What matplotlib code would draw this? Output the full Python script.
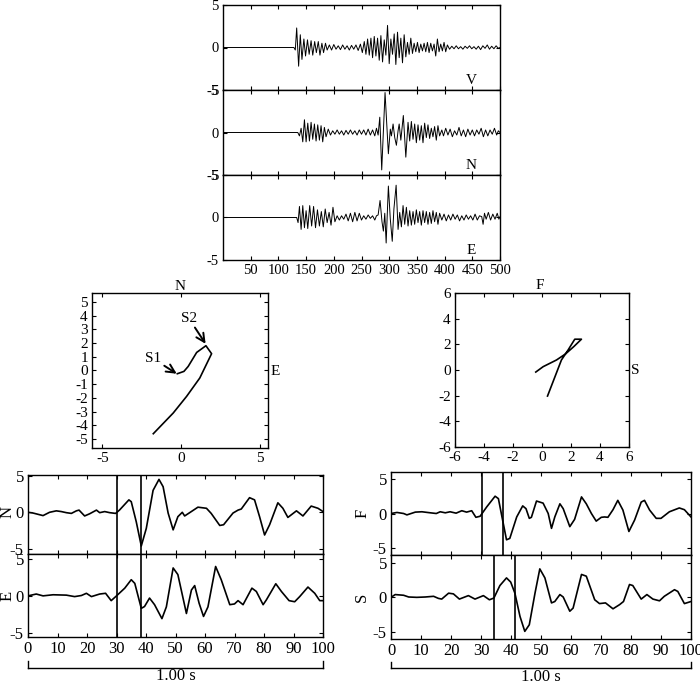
import numpy as np
import matplotlib.pyplot as plt

plt.rcParams['font.family'] = ['Liberation Serif', 'DejaVu Serif']
plt.rcParams['axes.unicode_minus'] = False
plt.rcParams['xtick.direction'] = 'in'
plt.rcParams['ytick.direction'] = 'in'
plt.rcParams['xtick.top'] = True
plt.rcParams['ytick.right'] = True
plt.rcParams['xtick.major.size'] = 3
plt.rcParams['ytick.major.size'] = 3
plt.rcParams['axes.linewidth'] = 1.0

# --- three-component record (samples 0-500), read as turning points ---
v_pts = [(0, 0), (128, 0), (130.5, -0.3), (133, 2.3), (136.5, -2.2), (139.5, 1.5), (142.5, -1.4),
         (146, 1.0), (149, -1.0), (152.5, 0.9), (155.5, -0.8), (159, 0.8), (162, -0.9), (165.5, 0.7),
         (168.5, -0.6), (172, 0.7), (175, -0.9), (178.5, 0.5), (181.5, -0.6), (185, 0.5), (188, -0.3),
         (192, 0.3), (196, -0.3), (200, 0.35), (204, -0.2), (208, 0.2), (212, -0.25), (216, 0.3),
         (220, -0.2), (224, 0.2), (228, -0.3), (232, 0.25), (236, -0.2), (240, 0.3), (244, -0.35),
         (248, 0.4), (251.5, -0.6), (255, 0.7), (258, -0.8), (261, 1.0), (264, -0.9), (267, 1.1),
         (270, -1.2), (273, 1.3), (276, -1.0), (279, 1.1), (282, -1.5), (285, 1.4), (288, -1.7),
         (291, 0.9), (294, -0.9), (297, 2.6), (300, -1.9), (303, 1.0), (306, -0.8), (309, 1.6),
         (312, -2.0), (315, 1.8), (318, -1.2), (321, 1.1), (324, -1.8), (327, 1.5), (330, -1.1),
         (333, 0.6), (336, -0.8), (339, 1.1), (342, -0.7), (345, 0.5), (348, -0.5), (351, 0.6),
         (354, -0.6), (357, 0.4), (360, -0.4), (363, 0.5), (366, -0.5), (369, 0.6), (372, -0.6),
         (375, 0.5), (378, -0.4), (381, 0.4), (384, -1.0), (387, 1.0), (390, -0.5), (393, 0.4),
         (396, -0.4), (399, 0.6), (402, -0.5), (405, 0.3), (409, -0.2), (413, 0.15), (417, -0.15),
         (421, 0.2), (425, -0.15), (429, 0.1), (433, -0.2), (437, 0.15), (441, -0.1), (445, 0.2),
         (449, -0.15), (453, 0.1), (457, -0.2), (461, 0.15), (465, -0.25), (469, 0.2), (473, -0.1),
         (477, 0.3), (481, -0.2), (485, 0.15), (489, -0.15), (493, 0.2), (497, -0.1), (500, 0.0)]

n_pts = [(0, 0), (135, 0), (138, -0.4), (141, 0.5), (144, -1.1), (147, 1.5), (150, -1.1), (153, 1.1),
         (156, -1.0), (159, 1.2), (162, -0.8), (165, 1.0), (168, -1.0), (171, 0.9), (174, -0.9),
         (177, 0.8), (180, -1.1), (183, 0.6), (186, -0.5), (190, 0.4), (194, -0.3), (198, 0.2),
         (202, -0.2), (206, 0.3), (210, -0.2), (214, 0.2), (218, -0.3), (222, 0.25), (226, -0.2),
         (230, 0.3), (234, -0.2), (238, 0.2), (242, -0.3), (246, 0.3), (250, -0.2), (254, 0.3),
         (258, -0.3), (262, 0.4), (266, -0.3), (270, 0.3), (274, -0.4), (277, 0.5), (280, -0.3),
         (283, 1.8), (286.5, -4.4), (292.5, 4.7), (298.5, -2.5), (302, 0.4), (304, -0.4), (307, 1.0),
         (310, -0.6), (313, -1.5), (316, 0.2), (318, 1.0), (321, -0.9), (325.5, 2.0), (330, -2.9),
         (334, 1.2), (337, -1.0), (340, 1.3), (343, -0.8), (346, 1.0), (349, -1.2), (352, 0.9),
         (355, -0.9), (358, 0.8), (361, -1.2), (364, 1.1), (367, -0.6), (370, 0.9), (373, -0.7),
         (376, 0.5), (379, -0.5), (382, 0.7), (385, -0.9), (388, 0.8), (391, -0.4), (395, 0.3),
         (398, -0.4), (402, 0.5), (406, -0.3), (410, 0.4), (414, -0.5), (418, 0.2), (422, -0.3),
         (426, 0.6), (430, -0.4), (434, 0.3), (438, -0.5), (442, 0.4), (446, -0.3), (450, 0.3),
         (454, -0.4), (458, 0.3), (462, -0.2), (466, 0.5), (470, -0.5), (474, 0.3), (478, -0.4),
         (482, 0.3), (486, -0.2), (490, 0.5), (494, -0.3), (497, 0.2), (500, 0)]

e_pts = [(0, 0), (133, 0), (135.5, -0.6), (138, 1.3), (141, -1.4), (144, 1.4), (147, -1.2), (150, 0.8),
         (153, -1.3), (156.5, 1.4), (160, -1.0), (163.5, 1.3), (167, -1.2), (170.5, 0.9), (174, -1.0),
         (177.5, 0.7), (181, -1.1), (184.5, 1.0), (188, -0.6), (191.5, 0.6), (195, -0.9), (198.5, 1.2),
         (202, -0.5), (206, 0.2), (210, -0.3), (214, 0.2), (218, -0.2), (222, 0.4), (226, -0.4),
         (230, 0.5), (234, -0.5), (238, 0.6), (242, -0.4), (246, 0.5), (250, -0.3), (254, 0.2),
         (258, -0.2), (262, 0.3), (266, -0.1), (270, 0.2), (274, -0.3), (277, 0.2), (280, 0.3),
         (283.5, 2.0), (287, -0.5), (289.5, -1.6), (292, 0.5), (294.5, -3.0), (298.5, 3.7),
         (302, -0.2), (305.5, -2.8), (308.5, 1.0), (312.5, 3.8), (316, -1.4), (319, 0.6), (322, -1.1),
         (325, 1.4), (328, -0.8), (331, 1.2), (334, -1.0), (337, 0.8), (340, -0.9), (343, 0.7),
         (346, -0.8), (349, 0.9), (352, -0.6), (355, 0.7), (358, -0.9), (361, 0.8), (364, -0.6),
         (367, 0.7), (370, -0.8), (373, 0.6), (376, -0.7), (379, 0.8), (382, -0.5), (385, 0.6),
         (388, -0.8), (391, 0.5), (395, -0.3), (399, 0.4), (403, -0.4), (407, 0.3), (411, -0.3),
         (415, 0.4), (419, -0.2), (423, 0.3), (427, -0.4), (431, 0.2), (435, -0.3), (439, 0.3),
         (443, -0.2), (447, 0.2), (451, -0.3), (455, 0.4), (459, -0.3), (463, 0.2), (467, 0.1),
         (469.5, -0.8), (472, 0.5), (475, -0.2), (479, 0.6), (483, -0.3), (487, 0.4), (491, -0.2),
         (495, 0.5), (498, -0.2), (500, 0.1)]

top_names = ['V', 'N', 'E']

# --- particle motion (hodograms) ---
hodo_ne_x = [-0.23, 0.19, 0.46, 1.0, 1.59, 1.95, 1.2, 0.36, -0.49, -1.76]
hodo_ne_y = [-0.24, -0.07, 0.29, 1.31, 1.8, 1.22, -0.55, -1.89, -3.1, -4.61]
hodo_fs_x = [-0.43, 0.08, 1.0, 1.62, 2.19, 2.72, 2.26, 1.8, 1.34, 0.38]
hodo_fs_y = [-0.16, 0.26, 0.78, 1.25, 1.82, 2.4, 2.4, 1.56, 0.78, -2.03]

# --- 1 s windows (samples 0-100) ---
wn_t = [0, 1.7, 5.1, 7.3, 9.6, 11.3, 13, 14.7, 16.4, 17.3, 19.2, 20.9, 23.2, 24.3, 26, 27.7, 29.7, 31,
        34.2, 35, 36.7, 38.4, 40.1, 42.4, 44.4, 45.8, 47.5, 49.2, 50.8, 52.3, 53.1, 54.8, 57.6, 60.5,
        62.1, 65, 66.3, 69.5, 71.2, 72.3, 75.1, 76.8, 78.5, 80.2, 81.9, 84.7, 86.4, 88.1, 91, 93.2,
        96, 98.3, 100]
wn_a = [0, -0.1, -0.45, 0, 0.2, 0.1, -0.05, -0.15, 0.2, 0.3, -0.5, -0.2, 0.3, -0.05, 0.1, -0.05,
        -0.15, 0.3, 1.7, 1.45, -1.3, -4.6, -2.2, 3.0, 4.5, 3.5, -0.1, -2.4, -0.6, 0, -0.5, -0.05, 0.7,
        0.55, -0.15, -1.8, -1.7, -0.1, 0.3, 0.45, 2.0, 1.7, -0.6, -3.1, -1.7, 1.3, 0.55, -0.7, 0.2,
        -0.5, 0.85, 0.55, 0.1]
we_t = [0, 2.8, 5.1, 8.5, 13, 15.8, 18.1, 19.8, 21.5, 24.3, 26.3, 28.2, 30, 32.8, 35, 36.2, 38.4,
        39.5, 41.2, 42.9, 45.4, 46.9, 49.2, 50.8, 53.7, 55.4, 56.5, 58, 59.5, 61, 63.6, 65.5, 68.4, 70,
        71.2, 72.9, 75.9, 77.4, 79.7, 80.8, 84, 85.9, 88.5, 90.4, 92.1, 94.9, 97.2, 98.9, 100]
we_a = [0, 0.25, 0, 0.15, 0.1, -0.1, 0.05, 0.35, -0.1, 0.25, 0.35, -0.65, 0, 1.05, 2.2, 1.7, -1.7,
        -1.45, -0.3, -1.2, -3.1, -1.5, 3.8, 2.9, -2.4, 0.8, 1.4, -1.0, -2.8, -1.5, 4.0, 2.2, -1.2, -1.1,
        -0.65, -1.2, 1.05, 0.6, -1.2, -0.55, 1.65, 0.6, -0.65, -0.8, -0.1, 1.2, 0.35, -0.65, -0.65]
wf_t = [0, 2, 4.2, 5.3, 8.1, 10.3, 13.1, 15.1, 16.4, 18.1, 19.7, 21.7, 23.6, 25.2, 26.9, 28.3, 29.7,
        31.9, 34.7, 35.8, 37.2, 38.5, 39.6, 41.9, 43.9, 45, 46.1, 46.8, 48.5, 50.7, 52.4, 53.5, 54.6,
        56.3, 57.4, 59.6, 61.2, 63.5, 65.1, 66.8, 68.4, 70.1, 71.2, 72.3, 74, 75.6, 77.3, 79.3, 81.2,
        83.4, 84.5, 86.2, 88.4, 90, 92.8, 96.1, 97.8, 100]
wf_a = [0, 0.15, 0, -0.2, 0.2, 0.25, 0.1, 0, 0.25, 0.1, 0.25, 0.05, 0.4, 0.2, 0.4, -0.55, -0.4, 0.95,
        2.5, 2.15, -0.95, -3.8, -3.6, -0.5, 1.1, 0.7, -0.7, -0.55, 1.8, 1.5, 0, -2.15, -0.5, 1.4, 0.7,
        -1.9, -0.85, 2.4, 1.4, 0, -1.1, -0.55, -0.5, -0.55, 0.55, 1.9, 0.5, -2.6, -0.95, 1.65, 1.9,
        0.5, -0.7, -0.7, 0.25, 0.8, 0.55, -0.5]
ws_t = [0, 1.4, 4.2, 5.9, 8.6, 11.4, 14.2, 15.8, 16.9, 19.2, 20.8, 22.8, 25.8, 28, 30.8, 32.8, 34.3,
        36.3, 38.5, 39.9, 41.3, 43, 44.6, 46.1, 48, 49.6, 51.3, 53.5, 54.6, 56.3, 57.4, 59.6, 60.7,
        63.5, 65.1, 67.9, 69.5, 71.5, 74, 76.2, 77.5, 79.5, 80.6, 83.4, 85.3, 87.3, 89.5, 91.1, 94.5,
        95.6, 97.8, 100]
ws_a = [0, 0.4, 0.3, 0.05, 0, 0.05, 0.15, -0.15, -0.25, 0.6, 0.5, -0.25, 0.25, -0.25, 0.25, -0.35,
        -0.1, 1.7, 2.8, 2.2, 0.6, -2.75, -4.9, -3.95, 0.6, 4.1, 2.8, -0.8, -0.6, 0.4, 0.05, -2.0, -1.55,
        3.3, 3.05, -0.35, -0.9, -0.8, -1.65, -1.05, -0.6, 1.85, 1.7, -0.25, 0.4, -0.25, -0.5, 0.15,
        1.1, 0.85, -0.9, -0.6]

ne_marks = [30.3, 38.4]
f_marks = [30.4, 37.2]
s_marks = [34.3, 41.3]
bar_span = [0, 100]
bar_label = '1.00 s'

FS_TOP = 10.5
FS_HODO = 11
FS_WIN = 12


def fig_rect(x0, y0, x1, y1, W=700, H=684):
    # pixel box (top-left origin) -> figure fraction rect
    return [x0 / W, 1 - y1 / H, (x1 - x0) / W, (y1 - y0) / H]


fig = plt.figure(figsize=(7.0, 6.84), dpi=100)

# top three-component panels
tops = [(5, 90), (90, 175), (175, 260)]
for i, (pts, name) in enumerate(zip([v_pts, n_pts, e_pts], top_names)):
    ax = fig.add_axes(fig_rect(223, tops[i][0], 500, tops[i][1]))
    t, a = zip(*pts)
    ax.plot(t, a, color='black', lw=0.7)
    ax.set_xlim(0, 500)
    ax.set_ylim(-5, 5)
    ax.set_xticks(range(50, 501, 50))
    ax.set_yticks([-5, 0, 5])
    ax.tick_params(labelsize=FS_TOP, pad=3)
    if i < 2:
        ax.tick_params(labelbottom=False)
    ax.text(448, -3.9, name, ha='center', va='center', fontsize=FS_TOP + 0.5)

# hodogram N-E
ax = fig.add_axes(fig_rect(92, 293, 268, 448))
ax.plot(hodo_ne_x, hodo_ne_y, color='black', lw=1.2)
ax.set_xlim(-5.66, 5.54)
ax.set_ylim(-5.65, 5.64)
ax.set_xticks([-5, 0, 5])
ax.set_yticks(range(-5, 6))
ax.tick_params(labelsize=FS_HODO, pad=3)
ax.text(0.5, 1.045, 'N', transform=ax.transAxes, ha='center', va='center', fontsize=FS_HODO)
ax.text(1.04, 0.494, 'E', transform=ax.transAxes, ha='center', va='center', fontsize=FS_HODO)
arrow = dict(arrowstyle='->', lw=1.4, color='black', mutation_scale=15, shrinkA=0, shrinkB=0)
ax.annotate('S1', xy=(-0.27, -0.24), xytext=(-1.75, 0.85), ha='center', va='center',
            fontsize=FS_HODO, arrowprops=arrow)
ax.annotate('S2', xy=(1.57, 1.94), xytext=(0.5, 3.8), ha='center', va='center',
            fontsize=FS_HODO, arrowprops=arrow)

# hodogram F-S
ax = fig.add_axes(fig_rect(455, 293, 629, 447))
ax.plot(hodo_fs_x, hodo_fs_y, color='black', lw=1.2)
ax.set_xlim(-6, 6)
ax.set_ylim(-6, 6)
ax.set_xticks(range(-6, 7, 2))
ax.set_yticks(range(-6, 7, 2))
ax.tick_params(labelsize=FS_HODO, pad=3)
ax.text(0.49, 1.048, 'F', transform=ax.transAxes, ha='center', va='center', fontsize=FS_HODO)
ax.text(1.035, 0.495, 'S', transform=ax.transAxes, ha='center', va='center', fontsize=FS_HODO)


def window_panel(rect, t, a, marks, ylim, label, lab_x, lab_y, bottom):
    ax = fig.add_axes(rect)
    ax.plot(t, a, color='black', lw=1.2, solid_joinstyle='round')
    for m in marks:
        ax.axvline(m, color='black', lw=1.2)
    ax.set_xlim(0, 100)
    ax.set_ylim(*ylim)
    ax.set_xticks(range(0, 101, 10))
    ax.set_yticks([-5, 0, 5])
    ax.tick_params(labelsize=FS_WIN, pad=3)
    if not bottom:
        ax.tick_params(labelbottom=False)
    ax.text(lab_x, lab_y, label, transform=ax.transAxes, rotation=90,
            ha='center', va='center', fontsize=FS_WIN)
    return ax


window_panel(fig_rect(28, 475, 323, 554), wn_t, wn_a, ne_marks, (-5.7, 5.1), 'N', -0.068, 0.53, False)
ax_e = window_panel(fig_rect(28, 554, 323, 637), we_t, we_a, ne_marks, (-5.6, 5.7), 'E', -0.068, 0.494, True)
window_panel(fig_rect(391, 472, 691, 555), wf_t, wf_a, f_marks, (-6, 6), 'F', -0.096, 0.5, False)
ax_s = window_panel(fig_rect(391, 555, 691, 639), ws_t, ws_a, s_marks, (-6, 6.1), 'S', -0.096, 0.49, True)

# 1 s scale bars under the windows
for axb, ybar, ytick, ylab in [(ax_e, -0.368, -0.295, -0.475), (ax_s, -0.345, -0.274, -0.45)]:
    tr = axb.get_xaxis_transform()
    axb.plot(bar_span, [ybar, ybar], transform=tr, clip_on=False, color='black', lw=1.0)
    for xb in bar_span:
        axb.plot([xb, xb], [ytick, ybar], transform=tr, clip_on=False, color='black', lw=1.0)
    axb.text(np.mean(bar_span), ylab, bar_label, transform=tr, ha='center', va='center', fontsize=FS_WIN)

fig.savefig('out.png', dpi=100)
